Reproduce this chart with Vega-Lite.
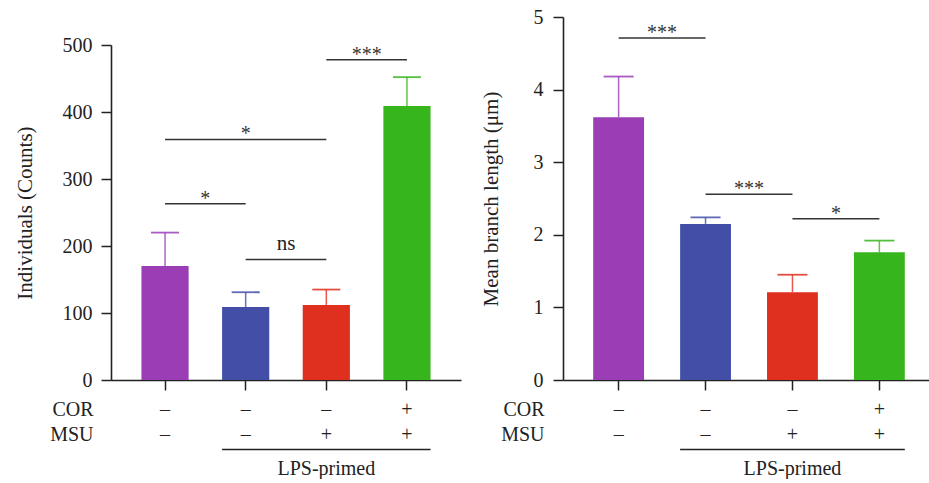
{
  "$schema": "https://vega.github.io/schema/vega-lite/v6.json",
  "padding": {"left": 14, "top": 7, "right": 0, "bottom": 0},
  "background": "white",
  "config": {
    "font": "Liberation Serif",
    "view": {"stroke": null},
    "axis": {
      "grid": false,
      "domainColor": "#222222",
      "domainWidth": 1.6,
      "tickColor": "#222222",
      "tickWidth": 1.5,
      "tickSize": 10,
      "labelColor": "#222222",
      "titleColor": "#222222",
      "labelFont": "Liberation Serif",
      "titleFont": "Liberation Serif",
      "labelFontSize": 20,
      "titleFontSize": 21,
      "titleFontWeight": "normal"
    },
    "text": {"font": "Liberation Serif", "fontSize": 20, "color": "#222222"}
  },
  "datasets": {
    "left": [
      {"group": "Control", "value": 170, "upper": 220},
      {"group": "LPS", "value": 109, "upper": 131},
      {"group": "LPS+MSU", "value": 112, "upper": 135},
      {"group": "LPS+MSU+COR", "value": 409, "upper": 452}
    ],
    "right": [
      {"group": "Control", "value": 3.62, "upper": 4.18},
      {"group": "LPS", "value": 2.15, "upper": 2.24},
      {"group": "LPS+MSU", "value": 1.21, "upper": 1.45},
      {"group": "LPS+MSU+COR", "value": 1.76, "upper": 1.92}
    ],
    "leftSig": [
      {"from": "Control", "to": "LPS", "level": 263, "label": "*"},
      {"from": "Control", "to": "LPS+MSU", "level": 359, "label": "*"},
      {"from": "LPS", "to": "LPS+MSU", "level": 180, "label": "ns"},
      {"from": "LPS+MSU", "to": "LPS+MSU+COR", "level": 478, "label": "***"}
    ],
    "rightSig": [
      {"from": "Control", "to": "LPS", "level": 4.71, "label": "***"},
      {"from": "LPS", "to": "LPS+MSU", "level": 2.56, "label": "***"},
      {"from": "LPS+MSU", "to": "LPS+MSU+COR", "level": 2.22, "label": "*"}
    ],
    "table": [
      {"group": "Control", "row": "COR", "sign": "–"},
      {"group": "LPS", "row": "COR", "sign": "–"},
      {"group": "LPS+MSU", "row": "COR", "sign": "–"},
      {"group": "LPS+MSU+COR", "row": "COR", "sign": "+"},
      {"group": "Control", "row": "MSU", "sign": "–"},
      {"group": "LPS", "row": "MSU", "sign": "–"},
      {"group": "LPS+MSU", "row": "MSU", "sign": "+"},
      {"group": "LPS+MSU+COR", "row": "MSU", "sign": "+"}
    ],
    "lps": [
      {"from": "LPS", "to": "LPS+MSU+COR", "mid": "LPS+MSU", "label": "LPS-primed"}
    ]
  },
  "spacing": 19,
  "resolve": {"scale": {"x": "independent", "y": "independent", "color": "independent"}},
  "hconcat": [
    {
      "spacing": 6,
      "resolve": {"scale": {"x": "independent", "y": "independent", "color": "independent"}},
      "vconcat": [
        {
          "width": 350,
          "height": 363,
          "layer": [
            {
              "data": {"name": "left"},
              "mark": {"type": "bar", "width": {"band": 0.585}},
              "encoding": {
                "x": {"field": "group", "type": "nominal",
                      "scale": {"domain": ["Control", "LPS", "LPS+MSU", "LPS+MSU+COR"], "paddingInner": 0, "paddingOuter": 0.17},
                      "axis": {"labels": false, "title": null, "tickSize": 10}},
                "y": {"field": "value", "type": "quantitative",
                      "scale": {"domain": [0, 500], "nice": false, "range": [363, 28]},
                      "axis": {"values": [0, 100, 200, 300, 400, 500], "title": "Individuals (Counts)", "labelPadding": 9, "titlePadding": 27}},
                "color": {"field": "group", "type": "nominal",
                          "scale": {"domain": ["Control", "LPS", "LPS+MSU", "LPS+MSU+COR"], "range": ["#9b3db5", "#434fa7", "#de2f1f", "#37b51c"]},
                          "legend": null}
              }
            },
            {
              "data": {"name": "left"},
              "mark": {"type": "rule", "strokeWidth": 1.5, "opacity": 0.8},
              "encoding": {
                "x": {"field": "group", "type": "nominal", "bandPosition": 0.5},
                "y": {"field": "value", "type": "quantitative"},
                "y2": {"field": "upper"},
                "color": {"field": "group", "type": "nominal", "legend": null}
              }
            },
            {
              "data": {"name": "left"},
              "mark": {"type": "tick", "size": 28, "thickness": 1.8, "opacity": 0.85},
              "encoding": {
                "x": {"field": "group", "type": "nominal"},
                "y": {"field": "upper", "type": "quantitative"},
                "color": {"field": "group", "type": "nominal", "legend": null}
              }
            },
            {
              "data": {"name": "leftSig"},
              "mark": {"type": "rule", "color": "#333333", "strokeWidth": 1.5},
              "encoding": {
                "x": {"field": "from", "type": "nominal", "bandPosition": 0.5},
                "x2": {"field": "to", "bandPosition": 0.5},
                "y": {"field": "level", "type": "quantitative"}
              }
            },
            {
              "data": {"name": "leftSig"},
              "transform": [{"filter": "datum.label != 'ns' && !(datum.from == 'Control' && datum.to == 'LPS+MSU')"}],
              "mark": {"type": "text", "baseline": "alphabetic", "dy": 1, "color": "#333333"},
              "encoding": {
                "x": {"field": "to", "type": "nominal", "bandPosition": 0},
                "y": {"field": "level", "type": "quantitative"},
                "text": {"field": "label"}
              }
            },
            {
              "data": {"name": "leftSig"},
              "transform": [{"filter": "datum.from == 'Control' && datum.to == 'LPS+MSU'"}],
              "mark": {"type": "text", "baseline": "alphabetic", "dy": 1, "color": "#333333"},
              "encoding": {
                "x": {"field": "to", "type": "nominal", "bandPosition": -0.5},
                "y": {"field": "level", "type": "quantitative"},
                "text": {"field": "label"}
              }
            },
            {
              "data": {"name": "leftSig"},
              "transform": [{"filter": "datum.label == 'ns'"}],
              "mark": {"type": "text", "baseline": "alphabetic", "dy": -9, "color": "#222222", "fontSize": 21},
              "encoding": {
                "x": {"field": "to", "type": "nominal", "bandPosition": 0},
                "y": {"field": "level", "type": "quantitative"},
                "text": {"field": "label"}
              }
            }
          ]
        },
        {
          "width": 350,
          "height": 75,
          "layer": [
            {
              "data": {"name": "table"},
              "mark": {"type": "text", "baseline": "middle"},
              "encoding": {
                "x": {"field": "group", "type": "nominal",
                      "scale": {"domain": ["Control", "LPS", "LPS+MSU", "LPS+MSU+COR"], "paddingInner": 0, "paddingOuter": 0.17},
                      "axis": null},
                "y": {"field": "row", "type": "nominal",
                      "scale": {"domain": ["COR", "MSU", "LPS"], "paddingInner": 0, "paddingOuter": 0},
                      "axis": {"domain": false, "ticks": false, "labelPadding": 18, "title": null, "labelExpr": "datum.value == 'LPS' ? '' : datum.value"}},
                "text": {"field": "sign"}
              }
            },
            {
              "data": {"name": "lps"},
              "mark": {"type": "rule", "strokeWidth": 1.6, "color": "#222222"},
              "encoding": {
                "x": {"field": "from", "type": "nominal", "bandPosition": 0.2075, "axis": null},
                "x2": {"field": "to", "bandPosition": 0.7925},
                "y": {"datum": "LPS", "type": "nominal", "bandPosition": 0.1}
              }
            },
            {
              "data": {"name": "lps"},
              "mark": {"type": "text", "baseline": "middle", "dy": 9},
              "encoding": {
                "x": {"field": "mid", "type": "nominal", "bandPosition": 0.5, "axis": null},
                "y": {"datum": "LPS", "type": "nominal"},
                "text": {"field": "label"}
              }
            }
          ]
        }
      ]
    },
    {
      "spacing": 6,
      "resolve": {"scale": {"x": "independent", "y": "independent", "color": "independent"}},
      "vconcat": [
        {
          "width": 372,
          "height": 363,
          "layer": [
            {
              "data": {"name": "right"},
              "mark": {"type": "bar", "width": {"band": 0.585}},
              "encoding": {
                "x": {"field": "group", "type": "nominal",
                      "scale": {"domain": ["Control", "LPS", "LPS+MSU", "LPS+MSU+COR"], "paddingInner": 0, "paddingOuter": 0.14},
                      "axis": {"labels": false, "title": null, "tickSize": 10}},
                "y": {"field": "value", "type": "quantitative",
                      "scale": {"domain": [0, 5], "nice": false},
                      "axis": {"values": [0, 1, 2, 3, 4, 5], "format": "d", "title": "Mean branch length (μm)", "labelPadding": 10, "titlePadding": 32}},
                "color": {"field": "group", "type": "nominal",
                          "scale": {"domain": ["Control", "LPS", "LPS+MSU", "LPS+MSU+COR"], "range": ["#9b3db5", "#434fa7", "#de2f1f", "#37b51c"]},
                          "legend": null}
              }
            },
            {
              "data": {"name": "right"},
              "mark": {"type": "rule", "strokeWidth": 1.5, "opacity": 0.8},
              "encoding": {
                "x": {"field": "group", "type": "nominal", "bandPosition": 0.5},
                "y": {"field": "value", "type": "quantitative"},
                "y2": {"field": "upper"},
                "color": {"field": "group", "type": "nominal", "legend": null}
              }
            },
            {
              "data": {"name": "right"},
              "mark": {"type": "tick", "size": 30, "thickness": 1.8, "opacity": 0.85},
              "encoding": {
                "x": {"field": "group", "type": "nominal"},
                "y": {"field": "upper", "type": "quantitative"},
                "color": {"field": "group", "type": "nominal", "legend": null}
              }
            },
            {
              "data": {"name": "rightSig"},
              "mark": {"type": "rule", "color": "#333333", "strokeWidth": 1.5},
              "encoding": {
                "x": {"field": "from", "type": "nominal", "bandPosition": 0.5},
                "x2": {"field": "to", "bandPosition": 0.5},
                "y": {"field": "level", "type": "quantitative"}
              }
            },
            {
              "data": {"name": "rightSig"},
              "mark": {"type": "text", "baseline": "alphabetic", "dy": 1, "color": "#333333"},
              "encoding": {
                "x": {"field": "to", "type": "nominal", "bandPosition": 0},
                "y": {"field": "level", "type": "quantitative"},
                "text": {"field": "label"}
              }
            }
          ]
        },
        {
          "width": 372,
          "height": 75,
          "layer": [
            {
              "data": {"name": "table"},
              "mark": {"type": "text", "baseline": "middle"},
              "encoding": {
                "x": {"field": "group", "type": "nominal",
                      "scale": {"domain": ["Control", "LPS", "LPS+MSU", "LPS+MSU+COR"], "paddingInner": 0, "paddingOuter": 0.14},
                      "axis": null},
                "y": {"field": "row", "type": "nominal",
                      "scale": {"domain": ["COR", "MSU", "LPS"], "paddingInner": 0, "paddingOuter": 0},
                      "axis": {"domain": false, "ticks": false, "labelPadding": 19, "title": null, "labelExpr": "datum.value == 'LPS' ? '' : datum.value"}},
                "text": {"field": "sign"}
              }
            },
            {
              "data": {"name": "lps"},
              "mark": {"type": "rule", "strokeWidth": 1.6, "color": "#222222"},
              "encoding": {
                "x": {"field": "from", "type": "nominal", "bandPosition": 0.2075, "axis": null},
                "x2": {"field": "to", "bandPosition": 0.7925},
                "y": {"datum": "LPS", "type": "nominal", "bandPosition": 0.1}
              }
            },
            {
              "data": {"name": "lps"},
              "mark": {"type": "text", "baseline": "middle", "dy": 9},
              "encoding": {
                "x": {"field": "mid", "type": "nominal", "bandPosition": 0.5, "axis": null},
                "y": {"datum": "LPS", "type": "nominal"},
                "text": {"field": "label"}
              }
            }
          ]
        }
      ]
    }
  ]
}
